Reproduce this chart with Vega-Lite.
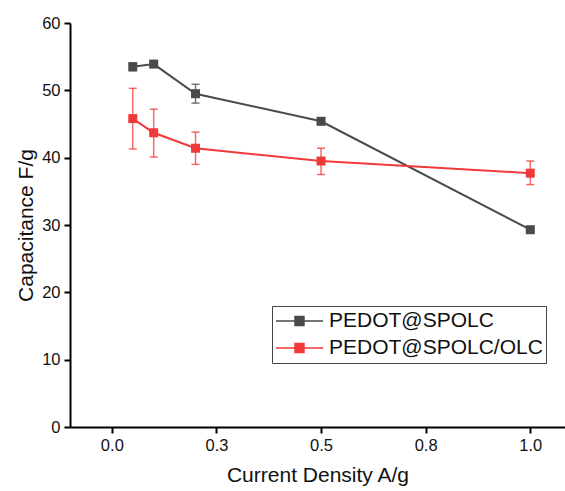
{
  "$schema": "https://vega.github.io/schema/vega-lite/v6.json",
  "width": 495,
  "height": 404,
  "autosize": {"type": "none"},
  "padding": {"left": 70, "top": 23, "right": 0, "bottom": 64},
  "background": "white",
  "config": {
    "view": {"stroke": null},
    "font": "Liberation Sans",
    "axis": {
      "grid": false,
      "domainColor": "#000000",
      "domainWidth": 2,
      "tickColor": "#000000",
      "tickWidth": 2,
      "tickSize": 6,
      "labelFont": "Liberation Sans",
      "labelFontSize": 16.5,
      "labelColor": "#111111",
      "labelPadding": 4,
      "titleFont": "Liberation Sans",
      "titleFontSize": 21,
      "titleFontWeight": "normal",
      "titleColor": "#111111"
    }
  },
  "data": {
    "values": [
      {"density": 0.05, "cap": 53.5, "lo": 52.9, "hi": 54.1, "series": "PEDOT@SPOLC"},
      {"density": 0.1, "cap": 53.9, "lo": 53.6, "hi": 54.2, "series": "PEDOT@SPOLC"},
      {"density": 0.2, "cap": 49.5, "lo": 48.1, "hi": 50.9, "series": "PEDOT@SPOLC"},
      {"density": 0.5, "cap": 45.4, "lo": 45.1, "hi": 45.7, "series": "PEDOT@SPOLC"},
      {"density": 1.0, "cap": 29.3, "lo": 29.0, "hi": 29.6, "series": "PEDOT@SPOLC"},
      {"density": 0.05, "cap": 45.8, "lo": 41.3, "hi": 50.3, "series": "PEDOT@SPOLC/OLC"},
      {"density": 0.1, "cap": 43.7, "lo": 40.1, "hi": 47.2, "series": "PEDOT@SPOLC/OLC"},
      {"density": 0.2, "cap": 41.4, "lo": 39.0, "hi": 43.8, "series": "PEDOT@SPOLC/OLC"},
      {"density": 0.5, "cap": 39.5, "lo": 37.5, "hi": 41.4, "series": "PEDOT@SPOLC/OLC"},
      {"density": 1.0, "cap": 37.7, "lo": 36.0, "hi": 39.5, "series": "PEDOT@SPOLC/OLC"}
    ]
  },
  "layer": [
    {
      "mark": {"type": "rule", "strokeWidth": 1.5, "opacity": 0.75},
      "encoding": {
        "x": {"field": "density", "type": "quantitative", "scale": {"domain": [-0.1, 1.083], "nice": false, "zero": false},
              "axis": {"values": [0, 0.25, 0.5, 0.75, 1.0], "format": ".1f", "title": "Current Density A/g", "titlePadding": 11}},
        "y": {"field": "lo", "type": "quantitative", "scale": {"domain": [0, 60], "nice": false},
              "axis": {"values": [0, 5, 10, 15, 20, 25, 30, 35, 40, 45, 50, 55, 60],
                       "labelExpr": "datum.value % 10 === 0 ? datum.label : ''",
                       "tickSize": {"expr": "datum.value % 10 === 0 ? 6 : 3"},
                       "title": "Capacitance F/g", "titlePadding": 5}},
        "y2": {"field": "hi"},
        "color": {"field": "series", "type": "nominal",
                  "scale": {"domain": ["PEDOT@SPOLC", "PEDOT@SPOLC/OLC"], "range": ["#4a4a4a", "#f03a3a"]},
                  "legend": {
                    "title": null,
                    "orient": "none",
                    "legendX": 202,
                    "legendY": 283,
                    "symbolType": "M-1,0L1,0M-0.19,-0.19L0.19,-0.19L0.19,0.19L-0.19,0.19Z",
                    "symbolSize": 2209,
                    "symbolStrokeWidth": 1.5,
                    "symbolOpacity": 1,
                    "clipHeight": 24,
                    "rowPadding": 3,
                    "labelOffset": 5,
                    "labelFont": "Liberation Sans",
                    "labelFontSize": 21,
                    "labelColor": "#111111",
                    "labelLimit": 400,
                    "padding": 3,
                    "strokeColor": "#444444",
                    "fillColor": "white",
                    "encode": {
                      "symbols": {
                        "update": {
                          "stroke": {"scale": "color", "field": "value"},
                          "fill": {"scale": "color", "field": "value"},
                          "strokeWidth": {"value": 1.5},
                          "opacity": {"value": 1}
                        }
                      }
                    }
                  }}
      }
    },
    {
      "mark": {"type": "tick", "orient": "horizontal", "size": 8, "thickness": 1.5, "opacity": 0.75},
      "encoding": {
        "x": {"field": "density", "type": "quantitative"},
        "y": {"field": "lo", "type": "quantitative"},
        "color": {"field": "series", "type": "nominal"}
      }
    },
    {
      "mark": {"type": "tick", "orient": "horizontal", "size": 8, "thickness": 1.5, "opacity": 0.75},
      "encoding": {
        "x": {"field": "density", "type": "quantitative"},
        "y": {"field": "hi", "type": "quantitative"},
        "color": {"field": "series", "type": "nominal"}
      }
    },
    {
      "mark": {"type": "line", "strokeWidth": 2},
      "encoding": {
        "x": {"field": "density", "type": "quantitative"},
        "y": {"field": "cap", "type": "quantitative"},
        "color": {"field": "series", "type": "nominal"}
      }
    },
    {
      "mark": {"type": "point", "shape": "square", "filled": true, "size": 81, "opacity": 1},
      "encoding": {
        "x": {"field": "density", "type": "quantitative"},
        "y": {"field": "cap", "type": "quantitative"},
        "color": {"field": "series", "type": "nominal"}
      }
    }
  ]
}
